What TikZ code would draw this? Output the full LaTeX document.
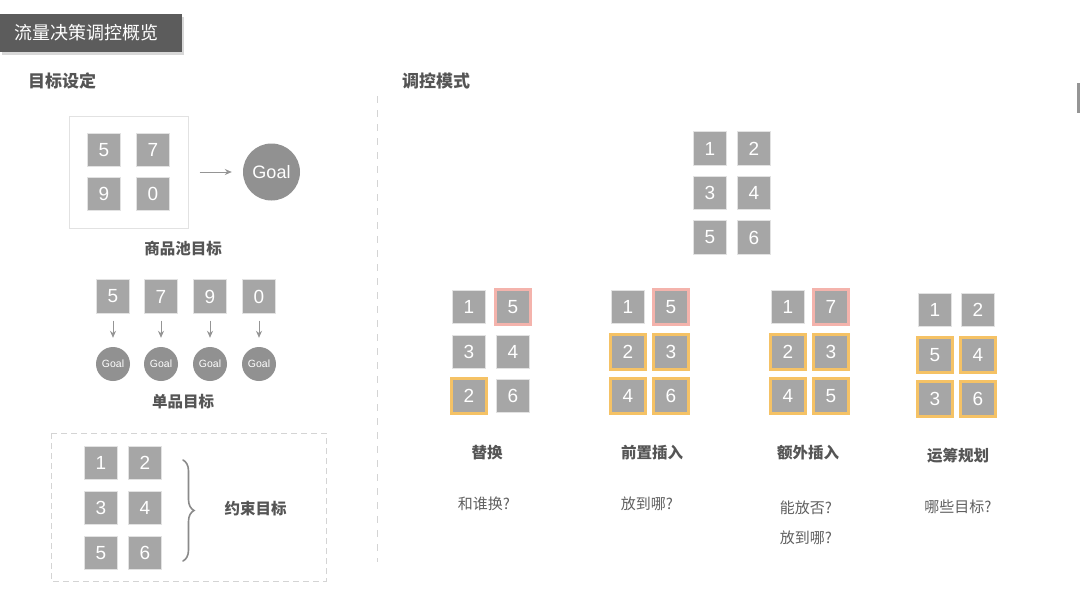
\documentclass[tikz,border=0pt]{standalone}
\usepackage{fontspec}
\setmainfont{Liberation Sans}
\newfontfamily\cjk{Noto Sans CJK SC}
\usetikzlibrary{decorations.pathreplacing,shadows,arrows.meta}
\definecolor{sq}{HTML}{A6A6A6}
\definecolor{sqline}{HTML}{E2E2E2}
\definecolor{pinkb}{HTML}{F4B3AC}
\definecolor{orb}{HTML}{F5C265}
\definecolor{lbl}{HTML}{555555}
\definecolor{qlbl}{HTML}{606060}
\definecolor{banner}{HTML}{5C5C5C}
\definecolor{goalc}{HTML}{919191}
\definecolor{arrc}{HTML}{959595}
\definecolor{bracec}{HTML}{8A8A8A}
\definecolor{dashc}{HTML}{D4D4D4}
\tikzset{
  sqbox/.style={draw=sqline, line width=0.8pt, fill=sq, minimum size=33.5pt, inner sep=0pt,
    text=white, font=\fontsize{19}{19}\selectfont},
  hlp/.style={sqbox, draw=pinkb, line width=2.6pt, minimum size=34.5pt},
  hlo/.style={sqbox, draw=orb, line width=2.6pt, minimum size=34.5pt},
  head/.style={text=lbl, inner sep=0pt, font=\cjk\bfseries\fontsize{17}{17}\selectfont},
  subhead/.style={text=lbl, inner sep=0pt, font=\cjk\bfseries\fontsize{15.5}{15.5}\selectfont},
  qtext/.style={text=qlbl, inner sep=0pt, font=\cjk\fontsize{15}{15}\selectfont},
  goalbig/.style={circle, fill=goalc, minimum size=57pt, inner sep=0pt, text=white,
    font=\fontsize{18}{18}\selectfont},
  goalsm/.style={circle, fill=goalc, minimum size=34pt, inner sep=0pt, text=white,
    font=\fontsize{10.5}{10.5}\selectfont},
  arr/.style={draw=arrc, line width=1pt, -{Stealth[length=7pt,width=6pt]}},
  divline/.style={draw=dashc, line width=1pt, dash pattern=on 7pt off 7pt},
}
\begin{document}
\begin{tikzpicture}[x=1pt,y=-1pt]
\useasboundingbox (0,0) rectangle (1080,590);
\fill[white] (0,0) rectangle (1080,590);

% title banner
\node[fill=banner, minimum width=182pt, minimum height=38pt, anchor=north west, inner sep=0pt,
  drop shadow={shadow xshift=2pt, shadow yshift=-3pt, opacity=0.3}] (banner) at (0,14) {};
\node[anchor=west, text=white, inner sep=0pt, font=\cjk\fontsize{18}{18}\selectfont] (title) at (14,33) {流量决策调控概览};

% right mark
\fill[arrc] (1077,83) rectangle (1080,113);

% section heads
\node[head] (h1) at (62,81) {目标设定};
\node[head] (h2) at (436,81) {调控模式};

% divider
\coordinate (dtop) at (377,96);
\coordinate (dbot) at (377,562);
\draw[divline] (dtop) -- (dbot);

% pool target
\node[draw=sqline, line width=1pt, minimum width=119pt, minimum height=112pt, inner sep=0pt] (pool) at (128.5,172) {};
\node[sqbox] (p5) at (104,150) {5};
\node[sqbox] (p7) at (153,150) {7};
\node[sqbox] (p9) at (104,194) {9};
\node[sqbox] (p0) at (153,194) {0};
\node[goalbig] (goal) at (271.5,172) {Goal};
\draw[arr, shorten <=11pt, shorten >=11pt] (pool) -- (goal);
\node[subhead] (l1) at (183,249) {商品池目标};

% single targets
\foreach \n/\x in {5/113,7/161,9/210,0/259}{
  \node[sqbox] (s\n) at (\x,296.5) {\n};
  \node[goalsm] (g\n) at (\x,364) {Goal};
  \draw[arr, shorten <=7pt, shorten >=9pt] (s\n) -- (g\n);
}
\node[subhead] (l2) at (183,402) {单品目标};

% constraint target
\coordinate (cbA) at (51,433);
\coordinate (cbB) at (326,581);
\draw[draw=dashc, line width=1pt, dash pattern=on 6pt off 4pt] (cbA) rectangle (cbB);
\node[sqbox] (c1) at (101,463) {1};
\node[sqbox] (c2) at (145,463) {2};
\node[sqbox] (c3) at (101,508) {3};
\node[sqbox] (c4) at (145,508) {4};
\node[sqbox] (c5) at (101,553) {5};
\node[sqbox] (c6) at (145,553) {6};
\coordinate (brT) at (183,460);
\coordinate (brB) at (183,561);
\draw[draw=bracec, line width=1.6pt, line cap=round, decorate, decoration={brace, amplitude=11pt, aspect=0.5}] (brT) -- (brB);
\node[subhead] (l3) at (255.5,509) {约束目标};

% top grid
\node[sqbox] (t1) at (710,148.5) {1};
\node[sqbox] (t2) at (754,148.5) {2};
\node[sqbox] (t3) at (710,193) {3};
\node[sqbox] (t4) at (754,193) {4};
\node[sqbox] (t5) at (710,237.5) {5};
\node[sqbox] (t6) at (754,237.5) {6};

% group 1
\node[sqbox] (a1) at (469,307) {1};
\node[hlp]   (a5) at (513,307) {5};
\node[sqbox] (a3) at (469,352) {3};
\node[sqbox] (a4) at (513,352) {4};
\node[hlo]   (a2) at (469,396) {2};
\node[sqbox] (a6) at (513,396) {6};
% group 2
\node[sqbox] (b1) at (628,307) {1};
\node[hlp]   (b5) at (671,307) {5};
\node[hlo]   (b2) at (628,352) {2};
\node[hlo]   (b3) at (671,352) {3};
\node[hlo]   (b4) at (628,396) {4};
\node[hlo]   (b6) at (671,396) {6};
% group 3
\node[sqbox] (e1) at (788,307) {1};
\node[hlp]   (e7) at (831,307) {7};
\node[hlo]   (e2) at (788,352) {2};
\node[hlo]   (e3) at (831,352) {3};
\node[hlo]   (e4) at (788,396) {4};
\node[hlo]   (e5) at (831,396) {5};
% group 4
\node[sqbox] (f1) at (935,310) {1};
\node[sqbox] (f2) at (978,310) {2};
\node[hlo]   (f5) at (935,355) {5};
\node[hlo]   (f4) at (978,355) {4};
\node[hlo]   (f3) at (935,399) {3};
\node[hlo]   (f6) at (978,399) {6};

% group labels
\node[subhead] (m1) at (487,453) {替换};
\node[subhead] (m2) at (652,453) {前置插入};
\node[subhead] (m3) at (808,453) {额外插入};
\node[subhead] (m4) at (958,456) {运筹规划};
\node[qtext] (q1) at (484,504) {和谁换?};
\node[qtext] (q2) at (647,504) {放到哪?};
\node[qtext] (q3) at (806,508) {能放否?};
\node[qtext] (q4) at (806,538) {放到哪?};
\node[qtext] (q5) at (958,507) {哪些目标?};
\end{tikzpicture}
\end{document}
